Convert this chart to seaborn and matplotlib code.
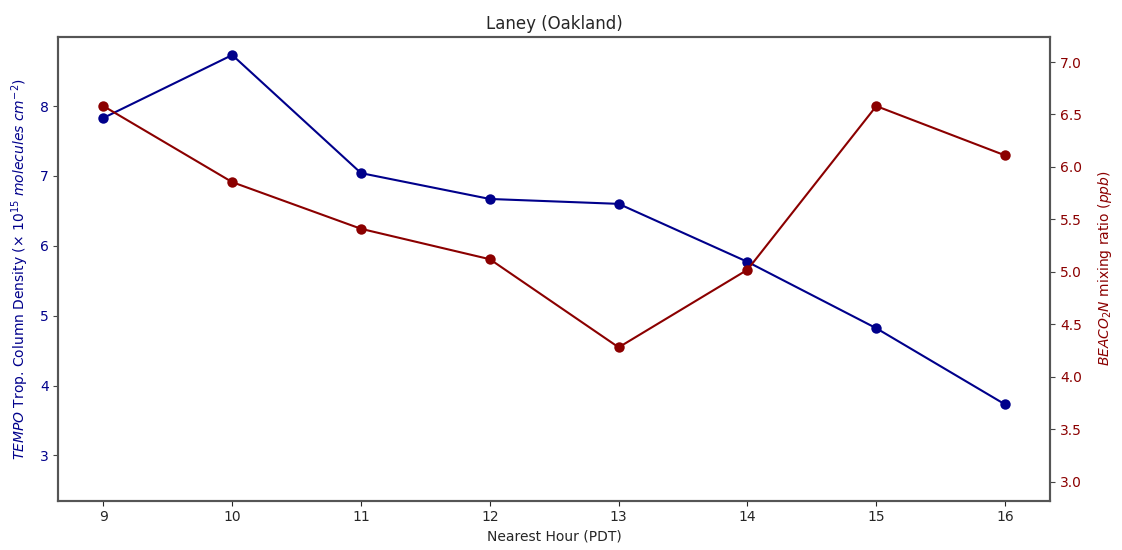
import matplotlib
matplotlib.use("Agg")
import matplotlib.pyplot as plt
import seaborn as sns
import pandas as pd

hours = [9, 10, 11, 12, 13, 14, 15, 16]
tempo_no2 = [7.83, 8.73, 7.04, 6.67, 6.60, 5.77, 4.82, 3.73]
beacon_no2 = [6.58, 5.855, 5.41, 5.12, 4.28, 5.02, 6.58, 6.11]

df = pd.DataFrame({"hour": hours, "tempo": tempo_no2, "beacon": beacon_no2})

sns.set_style("ticks")
plt.rcParams["font.family"] = ["DejaVu Sans"]

blue = "#00008B"
red = "#8B0000"

fig, ax1 = plt.subplots(figsize=(11.22, 5.5), dpi=100)
fig.subplots_adjust(left=0.052, right=0.936, top=0.933, bottom=0.09)

sns.lineplot(data=df, x="hour", y="tempo", ax=ax1, color=blue, marker="o",
             markersize=7.5, markeredgewidth=0, linewidth=1.5)
ax1.set_ylim(2.355, 8.99)
ax1.set_xlim(8.65, 16.35)
ax1.set_xticks(hours)
ax1.set_ylabel(r"$\it{TEMPO}$ Trop. Column Density ($\times$ $10^{15}$ $molecules$ $cm^{-2}$)",
               color=blue, labelpad=6)
ax1.set_xlabel("Nearest Hour (PDT)")
ax1.tick_params(axis="y", labelcolor=blue, color="#444444")
ax1.set_title("Laney (Oakland)")

ax2 = ax1.twinx()
sns.lineplot(data=df, x="hour", y="beacon", ax=ax2, color=red, marker="o",
             markersize=7.5, markeredgewidth=0, linewidth=1.5)
ax2.set_ylim(2.82, 7.24)
ax2.set_yticks([3.0, 3.5, 4.0, 4.5, 5.0, 5.5, 6.0, 6.5, 7.0])
ax2.set_ylabel(r"$BEACO_2N$ mixing ratio ($ppb$)", color=red, labelpad=10)
ax2.tick_params(axis="y", labelcolor=red, color="#444444")

for ax in (ax1, ax2):
    for s in ax.spines.values():
        s.set_visible(True)
        s.set_color("#555555")
        s.set_linewidth(1.5)

fig.savefig("out.png", dpi=100)
